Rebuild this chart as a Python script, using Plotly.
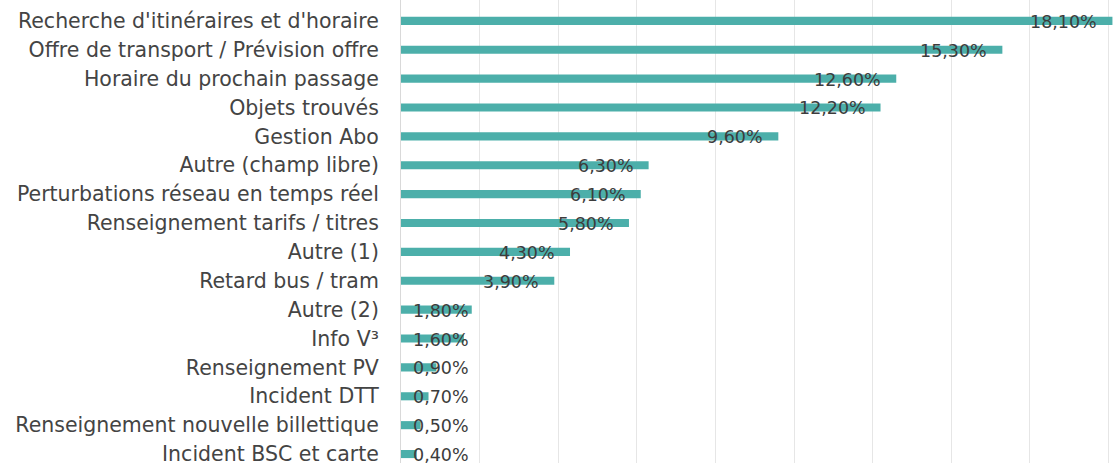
import plotly.graph_objects as go

categories = [
    "Recherche d'itinéraires et d'horaire",
    "Offre de transport / Prévision offre",
    "Horaire du prochain passage",
    "Objets trouvés",
    "Gestion Abo",
    "Autre (champ libre)",
    "Perturbations réseau en temps réel",
    "Renseignement tarifs / titres",
    "Autre (1)",
    "Retard bus / tram",
    "Autre (2)",
    "Info V³",
    "Renseignement PV",
    "Incident DTT",
    "Renseignement nouvelle billettique",
    "Incident BSC et carte",
]
values = [18.1, 15.3, 12.6, 12.2, 9.6, 6.3, 6.1, 5.8, 4.3, 3.9, 1.8, 1.6, 0.9, 0.7, 0.5, 0.4]
value_labels = ["18,10%", "15,30%", "12,60%", "12,20%", "9,60%", "6,30%", "6,10%", "5,80%",
                "4,30%", "3,90%", "1,80%", "1,60%", "0,90%", "0,70%", "0,50%", "0,40%"]

BAR_COLOR = "#4cafaa"
LABEL_MIN = 2.11  # labels of short bars are held at a minimum position

fig = go.Figure()
fig.add_trace(go.Bar(
    x=values, y=categories, orientation="h",
    marker=dict(color=BAR_COLOR, line=dict(width=0)),
    hoverinfo="skip",
))

for cat, v, lab in zip(categories, values, value_labels):
    fig.add_annotation(
        x=max(v, LABEL_MIN), y=cat, text=lab, showarrow=False,
        xanchor="right", yanchor="middle", xshift=-13, yshift=-1,
        font=dict(family="DejaVu Sans", size=17.5, color="#3c3c3c"),
    )

fig.update_layout(
    width=1114, height=466, autosize=False,
    margin=dict(l=401, r=0, t=0, b=0, pad=0),
    paper_bgcolor="white", plot_bgcolor="white",
    bargap=0.72, showlegend=False,
    font=dict(family="DejaVu Sans", size=20.5, color="#444444"),
)
fig.update_xaxes(
    range=[0, 18.14], dtick=2, tick0=0, showticklabels=False,
    showgrid=True, gridcolor="#e6e6e6", gridwidth=1,
    zeroline=False, showline=False, ticks="",
)
fig.update_yaxes(
    type="category", range=[15.31, -0.722],
    showgrid=False, zeroline=False,
    showline=True, linecolor="#d9d9d9", linewidth=1,
    ticks="", ticklabelstandoff=17,
    tickfont=dict(family="DejaVu Sans", size=20.5, color="#444444"),
)

fig.write_html("out.html", config={"displayModeBar": False},
               post_script="document.body.style.margin='0';")
